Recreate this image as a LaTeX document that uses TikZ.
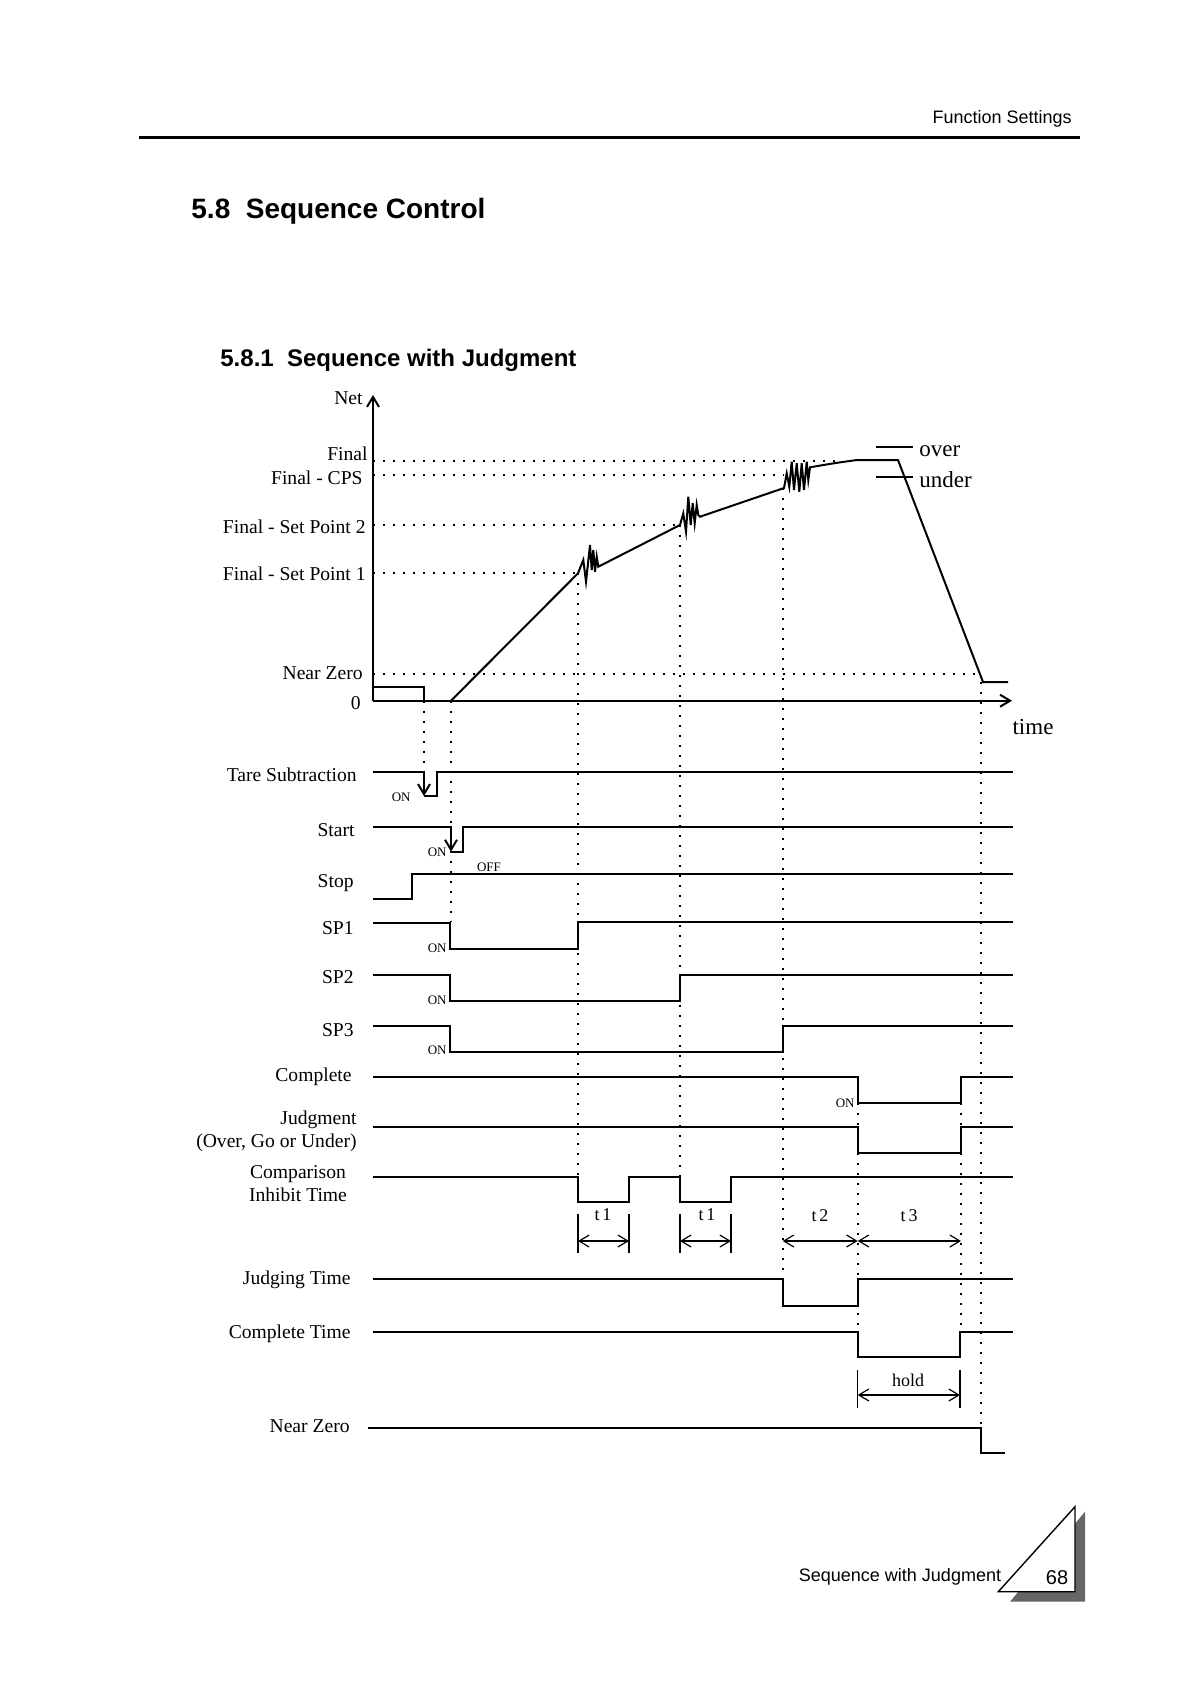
\documentclass[tikz,border=0pt]{standalone}
\usepackage{fontspec}
\setmainfont{Liberation Serif}
\newfontfamily\headfont{Liberation Sans}
\usetikzlibrary{arrows.meta}

\begin{document}
\begin{tikzpicture}[x=0.5pt, y=-0.5pt,
    sig/.style={line width=1pt},
    grid/.style={line width=1pt, dash pattern=on 1pt off 4pt},
    edge/.style={sig, -{Straight Barb[length=5pt,width=6pt]}},
    dim/.style={{Straight Barb[length=5pt,width=6pt]}-{Straight Barb[length=5pt,width=6pt]}, line width=0.6pt},
    tick/.style={line width=0.7pt},
    lbl/.style={anchor=east, inner sep=0pt, font=\fontsize{9.8}{11.5}\selectfont},
    small/.style={inner sep=0pt, font=\fontsize{6.5}{7}\selectfont},
    big/.style={inner sep=0pt, font=\fontsize{11.5}{13}\selectfont},
    tlbl/.style={inner sep=0pt, font=\fontsize{9}{10}\selectfont}
  ]
  \useasboundingbox (0,0) rectangle (1186,1682);

  % page head
  \node[anchor=east, inner sep=0pt, font=\headfont\fontsize{9}{10}\selectfont] (head) at (1072,119) {Function Settings};
  \draw[line width=1.5pt] (139,137) -- (1080,137);
  \node[anchor=west, inner sep=0pt, font=\headfont\bfseries\fontsize{14}{16}\selectfont] (sec) at (191,211) {5.8\ \ Sequence Control};
  \node[anchor=west, inner sep=0pt, font=\headfont\bfseries\fontsize{12}{14}\selectfont] (subsec) at (220,360) {5.8.1\ \ Sequence with Judgment};

  % weight axis
  \draw[edge] (373,700.7) -- (373,395);
  \draw[edge] (373,700.7) -- (1012,700.7);
  \node[lbl] (net)   at (363,398) {Net};
  \node[lbl] (final) at (368,454) {Final};
  \node[lbl] (cps)   at (363,478) {Final - CPS};
  \node[lbl] (sp2l)  at (366,527) {Final - Set Point 2};
  \node[lbl] (sp1l)  at (366,574) {Final - Set Point 1};
  \node[lbl] (nzl)   at (363,673) {Near Zero};
  \node[lbl] (zero)  at (361,703) {0};
  \node[big] (time)  at (1033,727) {time};

  \draw[grid] (373,460.7) -- (837,460.7);
  \draw[grid] (373,475) -- (784,475);
  \draw[grid] (373,525) -- (680,525);
  \draw[grid] (373,573.3) -- (578,573.3);
  \draw[grid] (373,674) -- (982,674);

  % net weight
  \draw[sig] (373,687) -- (424,687) -- (424,700.7);
  \draw[sig] (451,700.7) -- (578,573.3) -- (583.3,560) -- (586,581.7) -- (590,545) -- (591.7,570)
    -- (593.3,550) -- (595,571.7) -- (596.7,556.7) -- (598.3,566.7)
    -- (680,525) -- (683.3,513.3) -- (686,531.7) -- (688.3,496.7) -- (690.7,525) -- (692.7,503.3)
    -- (694.7,523.3) -- (696.7,505) -- (698.3,515) -- (700,516.7)
    -- (784,488) -- (786.7,473.3) -- (789.3,486.7) -- (791.7,461.7) -- (794,490) -- (796.7,463.3)
    -- (799.3,491.7) -- (801.7,463.3) -- (804,490) -- (806.7,461.7) -- (808.3,480) -- (810,467.3)
    .. controls (835,463) .. (857,460) -- (898,460) -- (983,682) -- (1008,682);
  \draw[tick] (876,447) -- (913,447);
  \draw[tick] (876,477) -- (913,477);
  \node[big, anchor=west] (over)  at (919,451) {over};
  \node[big, anchor=west] (under) at (919,480) {under};

  % signal names
  \node[lbl] (tare)  at (357,775) {Tare Subtraction};
  \node[lbl] (start) at (355,830) {Start};
  \node[lbl] (stop)  at (354,883) {Stop};
  \node[lbl] (sp1)   at (354,928) {SP1};
  \node[lbl] (sp2)   at (354,977) {SP2};
  \node[lbl] (sp3)   at (354,1030) {SP3};
  \node[lbl] (cmp)   at (352,1077) {Complete};
  \node[lbl, align=right] (judge) at (357,1131) {Judgment\\(Over, Go or Under)};
  \node[inner sep=0pt, align=center, font=\fontsize{9.8}{11.5}\selectfont] (inhibit) at (298,1184) {Comparison\\Inhibit Time};
  \node[lbl] (jtime) at (351,1280) {Judging Time};
  \node[lbl] (ctime) at (351,1334) {Complete Time};
  \node[lbl] (nz)    at (350,1426) {Near Zero};

  % signals
  \draw[edge] (373,771.7) -| (424,796);
  \draw[sig] (424,796) -| (437,771.7) -- (1013,771.7);
  \draw[edge] (373,826.7) -| (451,851.7);
  \draw[sig] (451,851.7) -| (463,826.7) -- (1013,826.7);
  \draw[sig] (373,899) -| (412,874) -- (1013,874);
  \draw[sig] (373,923) -| (450,949) -| (578,922) -- (1013,922);
  \draw[sig] (373,975) -| (450,1000.7) -| (680,975) -- (1013,975);
  \draw[sig] (373,1025.7) -| (450,1051.7) -| (782.7,1025.7) -- (1013,1025.7);
  \draw[sig] (373,1076.7) -| (857.7,1102.7) -| (961,1076.7) -- (1013,1076.7);
  \draw[sig] (373,1127) -| (857.7,1152.7) -| (961,1127) -- (1013,1127);
  \draw[sig] (373,1177) -| (578,1201.7) -| (629,1177) -| (680,1201.7) -| (731,1177) -- (1013,1177);
  \draw[sig] (373,1279) -| (782.7,1305.7) -| (857.7,1279) -- (1013,1279);
  \draw[sig] (373,1331.7) -| (857.7,1357.3) -| (960,1331.7) -- (1013,1331.7);
  \draw[sig] (368,1428.3) -| (981,1453.3) -- (1005,1453.3);

  \node[small, anchor=east] (on1) at (411,797) {ON};
  \node[small, anchor=east] (on2) at (447,852) {ON};
  \node[small] (off) at (489,867) {OFF};
  \node[small, anchor=east] (on3) at (447,948) {ON};
  \node[small, anchor=east] (on4) at (447,1000) {ON};
  \node[small, anchor=east] (on5) at (447,1050) {ON};
  \node[small, anchor=east] (on6) at (855,1103) {ON};

  % timing guides
  \draw[grid] (424,700.7) -- (424,771.7);
  \draw[grid] (451,700.7) -- (451,922);
  \draw[grid] (578,573.3) -- (578,1177);
  \draw[grid] (680,525) -- (680,1177);
  \draw[grid] (782.7,488) -- (782.7,1279);
  \draw[grid] (857.7,1102.7) -- (857.7,1331.7);
  \draw[grid] (961,1102.7) -- (961,1331.7);
  \draw[grid] (981,682) -- (981,1428.3);

  % times
  \draw[tick] (578,1214) -- (578,1253);
  \draw[tick] (629,1214) -- (629,1253);
  \draw[tick] (680,1214) -- (680,1253);
  \draw[tick] (731,1214) -- (731,1253);
  \draw[dim] (578,1241) -- (629,1241);
  \draw[dim] (680,1241) -- (731,1241);
  \draw[dim] (782.7,1241) -- (857.7,1241);
  \draw[dim] (857.7,1241) -- (961,1241);
  \node[tlbl] (t1a) at (603,1215) {t\,1};
  \node[tlbl] (t1b) at (707,1215) {t\,1};
  \node[tlbl] (t2)  at (820,1216) {t\,2};
  \node[tlbl] (t3)  at (909,1216) {t\,3};
  \draw[tick] (857.7,1370) -- (857.7,1408);
  \draw[tick] (960,1370) -- (960,1408);
  \draw[dim] (857.7,1395) -- (960,1395);
  \node[tlbl] (hold) at (908,1380) {hold};

  % page foot
  \fill[black!60] (1010,1601.7) -- (1085,1511.7) -- (1085,1601.7) -- cycle;
  \draw[fill=white, line width=0.7pt] (998.3,1591.7) -- (1075,1506.7) -- (1075,1591.7) -- cycle;
  \node[inner sep=0pt, font=\headfont\fontsize{10}{11}\selectfont] (page) at (1057,1578) {68};
  \node[inner sep=0pt, font=\headfont\fontsize{9}{10}\selectfont] (foot) at (900,1577) {Sequence with Judgment};
\end{tikzpicture}
\end{document}
